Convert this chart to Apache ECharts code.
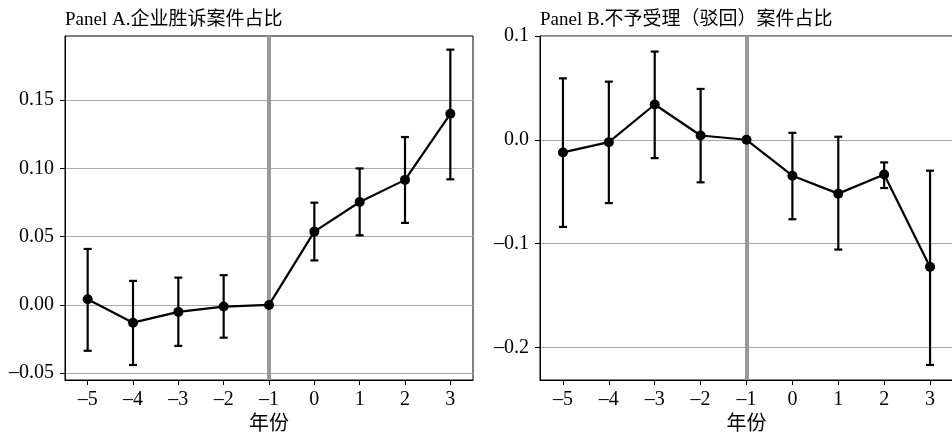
<!DOCTYPE html>
<html><head><meta charset="utf-8">
<script src="https://cdn.jsdelivr.net/npm/echarts@6/dist/echarts.min.js"></script>
<style>html,body{margin:0;padding:0;background:#fff}#c{width:952px;height:434px}</style>
</head><body><div id="c"></div>
<script>
const years = [-5, -4, -3, -2, -1, 0, 1, 2, 3];
const refYear = -1;
const titleA = 'Panel A.企业胜诉案件占比';
const titleB = 'Panel B.不予受理（驳回）案件占比';
const xName = '年份';
const coefA = [0.0042, -0.013, -0.0051, -0.0012, 0, 0.0537, 0.0754, 0.0916, 0.140];
const lowA  = [-0.0336, -0.044, -0.030, -0.024, null, 0.0326, 0.051, 0.0601, 0.092];
const highA = [0.041, 0.0176, 0.020, 0.0218, null, 0.0749, 0.100, 0.123, 0.187];
const coefB = [-0.0122, -0.0023, 0.034, 0.0041, 0, -0.0346, -0.0519, -0.0334, -0.1225];
const lowB  = [-0.084, -0.061, -0.0177, -0.041, null, -0.0766, -0.1058, -0.0465, -0.217];
const highB = [0.0592, 0.056, 0.085, 0.049, null, 0.0067, 0.0029, -0.0218, -0.0298];
const xTicks = [-5, -4, -3, -2, -1, 0, 1, 2, 3];
const yTicksA = [-0.05, 0, 0.05, 0.10, 0.15];
const yTicksB = [-0.2, -0.1, 0, 0.1];

const FONT = '"Liberation Serif", "Times New Roman", "Noto Sans CJK SC", serif';
const dash = s => s.replace('-', '–');

function errData(low, high) {
  const out = [];
  years.forEach((y, i) => { if (low[i] !== null) out.push([y, low[i], high[i]]); });
  return out;
}
function errRender(params, api) {
  const x = api.value(0);
  const p1 = api.coord([x, api.value(2)]);
  const p2 = api.coord([x, api.value(1)]);
  const w = 4;
  const st = { stroke: '#000', lineWidth: 2.2 };
  return { type: 'group', children: [
    { type: 'line', shape: { x1: p1[0], y1: p1[1], x2: p2[0], y2: p2[1] }, style: st },
    { type: 'line', shape: { x1: p1[0] - w, y1: p1[1], x2: p1[0] + w, y2: p1[1] }, style: st },
    { type: 'line', shape: { x1: p2[0] - w, y1: p2[1], x2: p2[0] + w, y2: p2[1] }, style: st }
  ]};
}

function xAxisFor(idx) {
  return {
    type: 'value', gridIndex: idx, min: -5.5, max: 3.5,
    name: xName, nameLocation: 'middle', nameGap: 33,
    nameTextStyle: { fontFamily: FONT, fontSize: 20, color: '#000' },
    axisLine: { show: true, onZero: false, lineStyle: { color: '#000', width: 1 } },
    axisTick: { show: true, length: 5, customValues: xTicks, lineStyle: { color: '#000' } },
    axisLabel: { customValues: xTicks, margin: 10, fontFamily: FONT, fontSize: 20, color: '#000',
      formatter: v => dash(String(v)) },
    splitLine: { show: false }
  };
}
function yAxisFor(idx, min, max, ticks, dec) {
  return {
    type: 'value', gridIndex: idx, min: min, max: max,
    axisLine: { show: true, onZero: false, lineStyle: { color: '#000', width: 1 } },
    axisTick: { show: true, length: 5, customValues: ticks, lineStyle: { color: '#000' } },
    axisLabel: { customValues: ticks, margin: 11, fontFamily: FONT, fontSize: 20, color: '#000',
      formatter: v => dash(v.toFixed(dec)) },
    splitLine: { show: true, lineStyle: { color: '#a8a8a8', width: 1 } }
  };
}
function seriesFor(idx, coef, low, high) {
  return [
    { type: 'custom', xAxisIndex: idx, yAxisIndex: idx, z: 2, renderItem: errRender,
      data: errData(low, high), silent: true, clip: false,
      markLine: { silent: true, symbol: 'none', z: 1, animation: false,
        label: { show: false }, lineStyle: { color: '#999', width: 4, type: 'solid' },
        data: [{ xAxis: refYear }] } },
    { type: 'line', xAxisIndex: idx, yAxisIndex: idx, z: 3,
      data: years.map((y, i) => [y, coef[i]]),
      symbol: 'circle', symbolSize: 10, showAllSymbol: true,
      lineStyle: { color: '#000', width: 2.2 }, itemStyle: { color: '#000' } }
  ];
}

const chart = echarts.init(document.getElementById('c'));
chart.setOption({
  animation: false,
  backgroundColor: '#fff',
  title: [
    { text: titleA, left: 65, top: 11, padding: 0, textStyle: { fontFamily: FONT, fontSize: 19, fontWeight: 'normal', color: '#000' } },
    { text: titleB, left: 540, top: 11, padding: 0, textStyle: { fontFamily: FONT, fontSize: 19, fontWeight: 'normal', color: '#000' } }
  ],
  grid: [
    { left: 65, top: 36, width: 408, height: 344, containLabel: false, outerBoundsMode: 'none', show: true, borderColor: '#000', borderWidth: 1, backgroundColor: 'transparent' },
    { left: 540, top: 36, width: 413, height: 344, containLabel: false, outerBoundsMode: 'none', show: true, borderColor: '#000', borderWidth: 1, backgroundColor: 'transparent' }
  ],
  xAxis: [xAxisFor(0), xAxisFor(1)],
  yAxis: [yAxisFor(0, -0.055, 0.197, yTicksA, 2), yAxisFor(1, -0.2315, 0.1, yTicksB, 1)],
  series: [...seriesFor(0, coefA, lowA, highA), ...seriesFor(1, coefB, lowB, highB)]
});
</script>
</body></html>
